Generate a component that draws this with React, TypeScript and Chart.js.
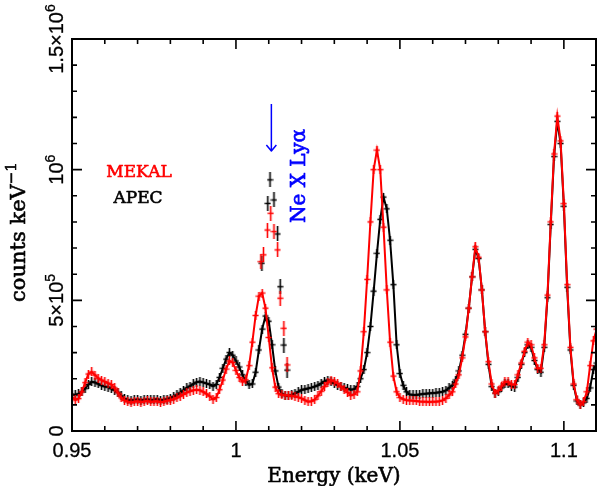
import React, { useEffect, useRef } from "react";
import { Chart, registerables } from "chart.js";
Chart.register(...registerables);

// Energy grid (keV)
const energy = [
  0.950, 0.951, 0.952, 0.953, 0.954, 0.955, 0.956, 0.957, 0.958, 0.959,
  0.960, 0.961, 0.962, 0.963, 0.964, 0.965, 0.966, 0.967, 0.968, 0.969,
  0.970, 0.971, 0.972, 0.973, 0.974, 0.975, 0.976, 0.977, 0.978, 0.979,
  0.980, 0.981, 0.982, 0.983, 0.984, 0.985, 0.986, 0.987, 0.988, 0.989,
  0.990, 0.991, 0.992, 0.993, 0.994, 0.995, 0.996, 0.997, 0.998, 0.999,
  1.000, 1.001, 1.002, 1.003, 1.004, 1.005, 1.006, 1.007, 1.008, 1.009,
  1.010, 1.011, 1.012, 1.013, 1.014, 1.015, 1.016, 1.017, 1.018, 1.019,
  1.020, 1.021, 1.022, 1.023, 1.024, 1.025, 1.026, 1.027, 1.028, 1.029,
  1.030, 1.031, 1.032, 1.033, 1.034, 1.035, 1.036, 1.037, 1.038, 1.039,
  1.040, 1.041, 1.042, 1.043, 1.044, 1.045, 1.046, 1.047, 1.048, 1.049,
  1.050, 1.051, 1.052, 1.053, 1.054, 1.055, 1.056, 1.057, 1.058, 1.059,
  1.060, 1.061, 1.062, 1.063, 1.064, 1.065, 1.066, 1.067, 1.068, 1.069,
  1.070, 1.071, 1.072, 1.073, 1.074, 1.075, 1.076, 1.077, 1.078, 1.079,
  1.080, 1.081, 1.082, 1.083, 1.084, 1.085, 1.086, 1.087, 1.088, 1.089,
  1.090, 1.091, 1.092, 1.093, 1.094, 1.095, 1.096, 1.097, 1.098, 1.099,
  1.100, 1.101, 1.102, 1.103, 1.104, 1.105, 1.106, 1.107, 1.108, 1.109,
  1.110,
];

// MEKAL counts (thousands of counts keV^-1)
const mekalK = [
  128, 119, 124, 150, 185, 218, 226, 214, 202, 195,
  189, 183, 178, 165, 146, 127, 117, 112, 108, 112,
  114, 110, 113, 115, 111, 113, 114, 110, 112, 116,
  118, 122, 127, 133, 140, 147, 152, 156, 158, 156,
  150, 142, 133, 121, 128, 158, 195, 237, 268, 262,
  232, 205, 188, 196, 250, 340, 442, 516, 528, 470,
  358, 242, 168, 143, 138, 137, 136, 134, 133, 129,
  125, 118, 112, 114, 120, 135, 152, 170, 185, 195,
  190, 182, 170, 160, 148, 136, 140, 150, 230, 380,
  580, 800, 1000, 1075, 1000, 780, 540, 340, 210, 150,
  128, 122, 118, 117, 116, 115, 113, 112, 112, 111,
  112, 112, 114, 117, 125, 138, 150, 180, 215, 280,
  360, 470, 590, 705, 665, 540, 380, 265, 180, 145,
  155, 172, 188, 188, 178, 178, 215, 260, 305, 340,
  330, 280, 240, 240, 330, 520, 800, 1060, 1205, 1110,
  870, 560, 320, 180, 120, 100, 112, 150, 250, 345,
  390,
];

// APEC counts (thousands of counts keV^-1)
const apecK = [
  140, 138, 142, 150, 162, 178, 188, 186, 180, 174,
  170, 168, 162, 156, 148, 135, 124, 119, 118, 119,
  121, 118, 120, 121, 119, 120, 122, 118, 120, 122,
  126, 132, 138, 146, 156, 165, 172, 180, 187, 189,
  186, 182, 178, 172, 178, 205, 240, 275, 300, 290,
  268, 245, 215, 190, 177, 180, 225, 310, 390, 440,
  420, 330, 230, 168, 142, 136, 134, 138, 144, 150,
  157, 160, 163, 166, 170, 175, 182, 190, 195, 190,
  182, 176, 170, 166, 162, 158, 160, 170, 200, 235,
  300, 400, 535, 680, 810, 895, 850, 730, 560, 330,
  220, 175, 150, 140, 138, 138, 140, 142, 143, 144,
  145, 146, 148, 150, 155, 165, 175, 195, 230, 290,
  370, 470, 590, 695, 660, 540, 380, 255, 170, 145,
  150, 165, 180, 180, 172, 168, 205, 255, 300, 330,
  320, 270, 235, 225, 320, 510, 790, 1050, 1185, 1100,
  860, 550, 310, 175, 115, 100, 108, 125, 165, 235,
  260,
];

// Ne X Ly-alpha data points lying off the model curves
const neMekalE = [1.0076, 1.0084, 1.0096, 1.0106, 1.0116, 1.0127, 1.0135, 1.0146, 1.0156];
const neMekalK = [648, 674, 769, 833, 763, 693, 508, 393, 253];
const neApecE = [1.0079, 1.0097, 1.0104, 1.0116, 1.0127, 1.0135, 1.0146, 1.0156];
const neApecK = [642, 871, 961, 884, 754, 552, 329, 233];

// Axis ticks
const xMajor = [0.95, 1.0, 1.05, 1.1];
const xMajorLabels = ["0.95", "1", "1.05", "1.1"];
const xMinor = [0.96, 0.97, 0.98, 0.99, 1.01, 1.02, 1.03, 1.04, 1.06, 1.07, 1.08, 1.09];
const yMajor = [0, 500000, 1000000, 1500000];
const yMajorLabels: [string, string][] = [["0", ""], ["5×10", "5"], ["10", "6"], ["1.5×10", "6"]];
const yMinor = [100000, 200000, 300000, 400000, 600000, 700000, 800000, 900000, 1100000, 1200000, 1300000, 1400000];

const X_MIN = 0.95;
const X_MAX = 1.1098;
const Y_MIN = 0;
const Y_MAX = 1500000;

function makeCross(color: string, w: number, h: number) {
  const c = document.createElement("canvas");
  c.width = w;
  c.height = h;
  const g = c.getContext("2d")!;
  g.strokeStyle = color;
  g.lineWidth = 1.6;
  g.beginPath();
  g.moveTo(w / 2, 0);
  g.lineTo(w / 2, h);
  g.moveTo(0.5, h / 2);
  g.lineTo(w - 0.5, h / 2);
  g.stroke();
  return c;
}

// text with a thin outline to mimic the heavier plotting font
function heavyText(ctx: CanvasRenderingContext2D, s: string, x: number, y: number, lw: number) {
  ctx.fillText(s, x, y);
  if (lw > 0) {
    ctx.lineWidth = lw;
    ctx.strokeStyle = ctx.fillStyle as string;
    ctx.lineJoin = "round";
    ctx.strokeText(s, x, y);
  }
}

function drawRotated(
  ctx: CanvasRenderingContext2D,
  base: string,
  sup: string,
  xBase: number,
  yCenter: number,
  font: string,
  size: number,
  supSize: number,
  raise: number,
  color: string,
  lw = 0
) {
  ctx.save();
  ctx.fillStyle = color;
  ctx.font = `${size}px ${font}`;
  const wb = ctx.measureText(base).width;
  ctx.font = `${supSize}px ${font}`;
  const ws = sup ? ctx.measureText(sup).width : 0;
  const w = wb + ws;
  ctx.translate(xBase, yCenter);
  ctx.rotate(-Math.PI / 2);
  ctx.textAlign = "left";
  ctx.textBaseline = "alphabetic";
  ctx.font = `${size}px ${font}`;
  heavyText(ctx, base, -w / 2, 0, lw);
  if (sup) {
    ctx.font = `${supSize}px ${font}`;
    heavyText(ctx, sup, -w / 2 + wb, -raise, lw);
  }
  ctx.restore();
}

const framePlugin = {
  id: "pgframe",
  afterDatasetsDraw(chart: any) {
    const { ctx, chartArea: a, scales } = chart;
    const xs = scales.x;
    const ys = scales.y;
    ctx.save();
    ctx.strokeStyle = "#000";
    ctx.lineWidth = 2;
    ctx.strokeRect(a.left, a.top, a.right - a.left, a.bottom - a.top);
    ctx.lineWidth = 1.6;
    ctx.beginPath();
    const xt = (v: number, len: number) => {
      const p = xs.getPixelForValue(v);
      ctx.moveTo(p, a.bottom);
      ctx.lineTo(p, a.bottom - len);
      ctx.moveTo(p, a.top);
      ctx.lineTo(p, a.top + len);
    };
    const yt = (v: number, len: number) => {
      const p = ys.getPixelForValue(v);
      ctx.moveTo(a.left, p);
      ctx.lineTo(a.left + len, p);
      ctx.moveTo(a.right, p);
      ctx.lineTo(a.right - len, p);
    };
    xMajor.forEach((v) => xt(v, 10));
    xMinor.forEach((v) => xt(v, 5));
    yMajor.forEach((v) => yt(v, 10));
    yMinor.forEach((v) => yt(v, 5));
    ctx.stroke();
    ctx.restore();
  },
  afterDraw(chart: any) {
    const { ctx, chartArea: a, scales } = chart;
    const xs = scales.x;
    const ys = scales.y;
    const sans = '"Liberation Sans", Arial, sans-serif';
    const serif = '"DejaVu Serif", serif';
    ctx.save();
    // x tick labels
    ctx.fillStyle = "#000";
    ctx.font = `20px ${sans}`;
    ctx.textAlign = "center";
    ctx.textBaseline = "alphabetic";
    xMajor.forEach((v, i) => {
      heavyText(ctx, xMajorLabels[i], xs.getPixelForValue(v), 457, 0.3);
    });
    // y tick labels
    yMajor.forEach((v, i) => {
      const [b, s] = yMajorLabels[i];
      drawRotated(ctx, b, s, 63, ys.getPixelForValue(v), sans, 20, 14, 8, "#000", 0.3);
    });
    // axis titles
    ctx.fillStyle = "#000";
    ctx.font = `20px ${serif}`;
    ctx.textAlign = "center";
    heavyText(ctx, "Energy (keV)", (a.left + a.right) / 2, 482, 0.6);
    drawRotated(ctx, "counts keV", "−1", 25, 232, serif, 21, 15, 9, "#000", 0.6);
    // legend texts
    ctx.font = `17px ${serif}`;
    ctx.textAlign = "center";
    ctx.fillStyle = "#ff0000";
    heavyText(ctx, "MEKAL", 139, 177, 0.6);
    ctx.fillStyle = "#000";
    heavyText(ctx, "APEC", 138, 203, 0.6);
    // Ne X Ly alpha annotation
    const ax = xs.getPixelForValue(1.0108);
    ctx.strokeStyle = "#0000ff";
    ctx.lineWidth = 1.5;
    ctx.beginPath();
    ctx.moveTo(ax, 104);
    ctx.lineTo(ax, 151);
    ctx.moveTo(ax - 5, 145);
    ctx.lineTo(ax, 151);
    ctx.lineTo(ax + 5, 145);
    ctx.stroke();
    drawRotated(ctx, "Ne X Lyα", "", 305, 176, serif, 20, 14, 0, "#0000ff", 0.7);
    ctx.restore();
  },
};

export default function App() {
  const ref = useRef<HTMLCanvasElement | null>(null);
  useEffect(() => {
    document.body.style.margin = "0";
    const canvas = ref.current!;
    const redCross = makeCross("#ff0000", 7, 9);
    const blackCross = makeCross("#000000", 7, 9);
    const redBar = makeCross("#ff0000", 7, 15);
    const blackBar = makeCross("#000000", 7, 15);
    const toPts = (xsArr: number[], ysArr: number[]) =>
      xsArr.map((x, i) => ({ x, y: ysArr[i] * 1000 }));
    const chart = new Chart(canvas, {
      type: "line",
      data: {
        datasets: [
          {
            label: "MEKAL",
            data: toPts(energy, mekalK),
            borderColor: "#ff0000",
            borderWidth: 2,
            pointStyle: redCross as any,
            pointRadius: 3,
            tension: 0,
          },
          {
            label: "MEKAL Ne X",
            data: toPts(neMekalE, neMekalK),
            showLine: false,
            borderColor: "#ff0000",
            pointStyle: redBar as any,
            pointRadius: 3,
          },
          {
            label: "APEC",
            data: toPts(energy, apecK),
            borderColor: "#000000",
            borderWidth: 2,
            pointStyle: blackCross as any,
            pointRadius: 3,
            tension: 0,
          },
          {
            label: "APEC Ne X",
            data: toPts(neApecE, neApecK),
            showLine: false,
            borderColor: "#000000",
            pointStyle: blackBar as any,
            pointRadius: 3,
          },
        ],
      },
      options: {
        animation: false,
        responsive: false,
        devicePixelRatio: 1,
        layout: { padding: { left: 72, top: 39, right: 2, bottom: 55 } },
        scales: {
          x: { type: "linear", min: X_MIN, max: X_MAX, display: false },
          y: { type: "linear", min: Y_MIN, max: Y_MAX, display: false },
        },
        plugins: {
          legend: { display: false },
          tooltip: { enabled: false },
        },
      },
      plugins: [framePlugin],
    });
    return () => chart.destroy();
  }, []);
  return (
    <div style={{ width: 602, height: 486 }}>
      <canvas ref={ref} width={602} height={486} style={{ display: "block" }} />
    </div>
  );
}
